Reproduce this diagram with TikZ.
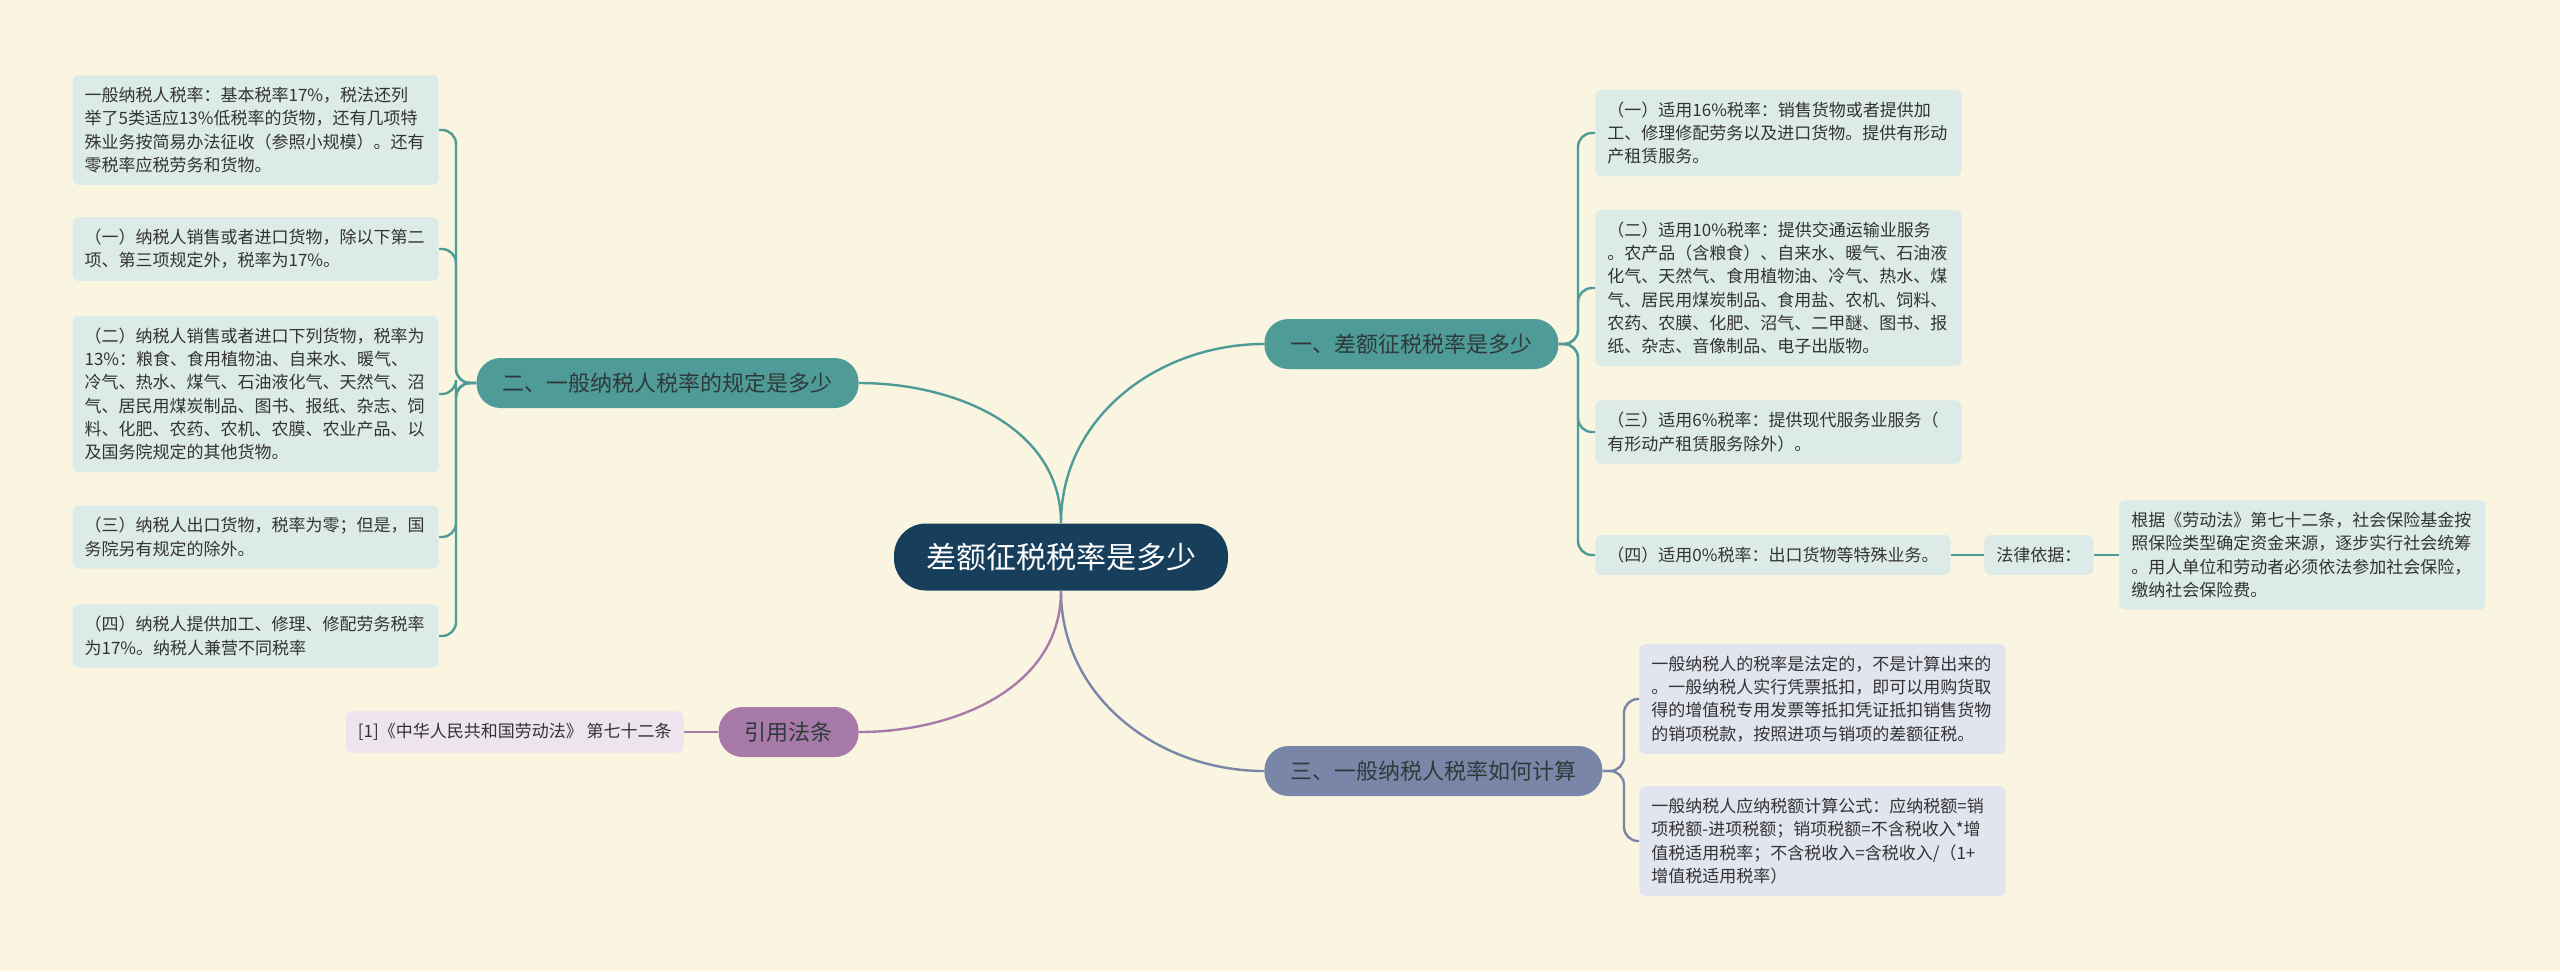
\documentclass[tikz,border=0pt]{standalone}
\usepackage{fontspec}
\setmainfont{Noto Sans CJK SC}
\usepackage{xcolor}
\definecolor{bgcream}{HTML}{FAF5E1}
\definecolor{rootblue}{HTML}{173E5B}
\definecolor{tealmain}{HTML}{4F9B98}
\definecolor{slatemain}{HTML}{7A86A8}
\definecolor{plummain}{HTML}{A77AA9}
\definecolor{tealleaf}{HTML}{DCEAE8}
\definecolor{slateleaf}{HTML}{E2E5EF}
\definecolor{plumleaf}{HTML}{EEE4EE}
\definecolor{inkdark}{HTML}{2E3A3A}
\tikzset{%
    root/.style={fill=rootblue, text=white, rounded corners=16pt,
        minimum height=33.5pt, inner xsep=16pt, font=\fontsize{15}{18}\selectfont},
    branch/.style={fill=#1, text=inkdark, rounded corners=12pt,
        minimum height=25pt, inner xsep=13pt, font=\fontsize{11}{13}\selectfont},
    leaf/.style={fill=#1, text=black!80, rounded corners=3pt, inner xsep=6pt,
        inner ysep=6pt, align=left, font=\fontsize{8.5}{11.6}\selectfont},
    leafbox/.style={leaf=#1, text width=171pt},
    link/.style={draw=#1, line width=1.2pt},
    spine/.style={draw=#1, line width=1.2pt, rounded corners=7pt}
}

\begin{document}
\begin{tikzpicture}[x=0.5pt,y=-0.5pt]
    \fill[bgcream] (0,0) rectangle (2560,971);
    \useasboundingbox (0,0) rectangle (2560,971);

    \node[root] (c) at (1061,557) {差额征税税率是多少};
    \node[branch=tealmain, anchor=west] (b1) at (1264,344) {一、差额征税税率是多少};
    \node[branch=tealmain, anchor=east] (b2) at (859,383) {二、一般纳税人税率的规定是多少};
    \node[branch=slatemain, anchor=west] (b3) at (1264,771) {三、一般纳税人税率如何计算};
    \node[branch=plummain, anchor=east] (b4) at (859,732) {引用法条};

    \node[leafbox=tealleaf, anchor=east] (l1) at (439,130) {一般纳税人税率：基本税率17\%，税法还列\\举了5类适应13\%低税率的货物，还有几项特\\殊业务按简易办法征收（参照小规模）。还有\\零税率应税劳务和货物。};
    \node[leafbox=tealleaf, anchor=east] (l2) at (439,249) {（一）纳税人销售或者进口货物，除以下第二\\项、第三项规定外，税率为17\%。};
    \node[leafbox=tealleaf, anchor=east] (l3) at (439,394) {（二）纳税人销售或者进口下列货物，税率为\\13\%：粮食、食用植物油、自来水、暖气、\\冷气、热水、煤气、石油液化气、天然气、沼\\气、居民用煤炭制品、图书、报纸、杂志、饲\\料、化肥、农药、农机、农膜、农业产品、以\\及国务院规定的其他货物。};
    \node[leafbox=tealleaf, anchor=east] (l4) at (439,537) {（三）纳税人出口货物，税率为零；但是，国\\务院另有规定的除外。};
    \node[leafbox=tealleaf, anchor=east] (l5) at (439,636) {（四）纳税人提供加工、修理、修配劳务税率\\为17\%。纳税人兼营不同税率};

    \node[leafbox=tealleaf, anchor=west] (r1) at (1595,133) {（一）适用16\%税率：销售货物或者提供加\\工、修理修配劳务以及进口货物。提供有形动\\产租赁服务。};
    \node[leafbox=tealleaf, anchor=west] (r2) at (1595,288) {（二）适用10\%税率：提供交通运输业服务\\。农产品（含粮食）、自来水、暖气、石油液\\化气、天然气、食用植物油、冷气、热水、煤\\气、居民用煤炭制品、食用盐、农机、饲料、\\农药、农膜、化肥、沼气、二甲醚、图书、报\\纸、杂志、音像制品、电子出版物。};
    \node[leafbox=tealleaf, anchor=west] (r3) at (1595,432) {（三）适用6\%税率：提供现代服务业服务（\\有形动产租赁服务除外）。};
    \node[leaf=tealleaf, anchor=west] (r4) at (1595,555) {（四）适用0\%税率：出口货物等特殊业务。};
    \node[leaf=tealleaf, anchor=west] (law) at (1984,555) {法律依据：};
    \node[leafbox=tealleaf, anchor=west] (basis) at (2119,555) {根据《劳动法》第七十二条，社会保险基金按\\照保险类型确定资金来源，逐步实行社会统筹\\。用人单位和劳动者必须依法参加社会保险，\\缴纳社会保险费。};

    \node[leafbox=slateleaf, anchor=west] (r5) at (1639,699) {一般纳税人的税率是法定的，不是计算出来的\\。一般纳税人实行凭票抵扣，即可以用购货取\\得的增值税专用发票等抵扣凭证抵扣销售货物\\的销项税款，按照进项与销项的差额征税。};
    \node[leafbox=slateleaf, anchor=west] (r6) at (1639,841) {一般纳税人应纳税额计算公式：应纳税额=销\\项税额-进项税额；销项税额=不含税收入*增\\值税适用税率；不含税收入=含税收入/（1+\\增值税适用税率）};

    \node[leaf=plumleaf, anchor=east] (cite) at (684,732) {[1]《中华人民共和国劳动法》 第七十二条};

    \draw[link=tealmain] (c.north) to[out=90,in=180] (b1.west);
    \draw[link=tealmain] (c.north) to[out=90,in=0] (b2.east);
    \draw[link=slatemain] (c.south) to[out=-90,in=180] (b3.west);
    \draw[link=plummain] (c.south) to[out=-90,in=0] (b4.east);

    \coordinate (s1) at (1578,344);
    \coordinate (s2) at (456,383);
    \coordinate (s3) at (1624,771);
    \foreach \n in {r1,r2,r3,r4}
    {
    \draw[spine=tealmain] (b1.east) -- (s1) |- (\n.west);
    }
    \foreach \n in {l1,l2,l3,l4,l5}
    {
    \draw[spine=tealmain] (b2.west) -- (s2) |- (\n.east);
    }
    \foreach \n in {r5,r6}
    {
    \draw[spine=slatemain] (b3.east) -- (s3) |- (\n.west);
    }
    \draw[link=tealmain] (r4) -- (law);
    \draw[link=tealmain] (law) -- (basis);
    \draw[link=plummain] (cite) -- (b4);
\end{tikzpicture}
\end{document}
